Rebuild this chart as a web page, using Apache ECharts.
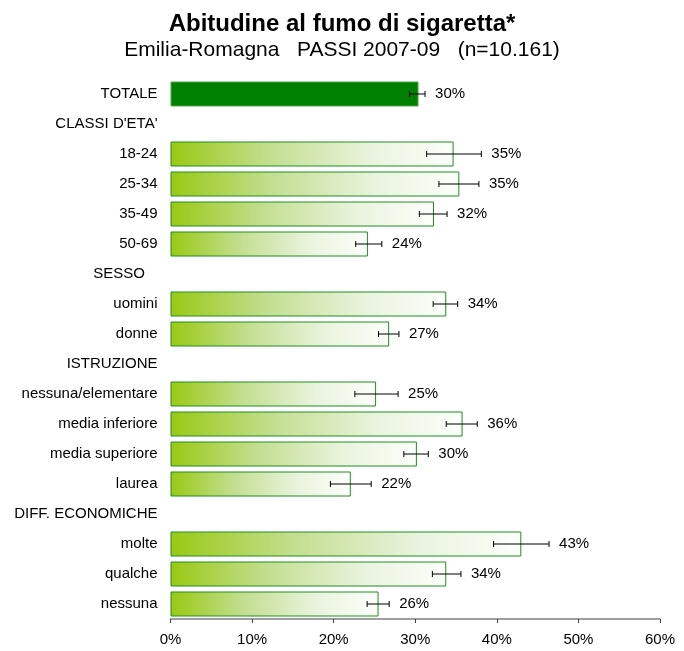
<!DOCTYPE html>
<html>
<head>
<meta charset="utf-8">
<script src="https://cdn.jsdelivr.net/npm/echarts@6/dist/echarts.min.js"></script>
<style>
html,body{margin:0;padding:0;background:#fff;}
#c{width:684px;height:651px;}
</style>
</head>
<body>
<div id="c"></div>
<script>
var categories = ['TOTALE', "CLASSI D'ETA'", '18-24', '25-34', '35-49', '50-69', 'SESSO   ', 'uomini', 'donne', 'ISTRUZIONE', 'nessuna/elementare', 'media inferiore', 'media superiore', 'laurea', 'DIFF. ECONOMICHE', 'molte', 'qualche', 'nessuna'];
var values = [30.4, null, 34.7, 35.4, 32.3, 24.2, null, 33.8, 26.8, null, 25.2, 35.8, 30.2, 22.1, null, 43.0, 33.8, 25.5];
var lowCI  = [29.3, null, 31.4, 32.9, 30.5, 22.7, null, 32.2, 25.5, null, 22.6, 33.8, 28.6, 19.6, null, 39.6, 32.1, 24.1];
var highCI = [31.2, null, 38.1, 37.8, 33.9, 25.9, null, 35.2, 28.0, null, 27.9, 37.6, 31.6, 24.6, null, 46.4, 35.6, 26.8];
var valueLabels = ['30%', '', '35%', '35%', '32%', '24%', '', '34%', '27%', '', '25%', '36%', '30%', '22%', '', '43%', '34%', '26%'];
var xTicks = [0, 10, 20, 30, 40, 50, 60];

var chart = echarts.init(document.getElementById('c'), null, {renderer: 'canvas'});
var FONT = 'Liberation Sans, Arial, sans-serif';

var grad = new echarts.graphic.LinearGradient(0, 0, 1, 0, [
  {offset: 0, color: '#99c913'},
  {offset: 0.35, color: '#c3de90'},
  {offset: 0.7, color: '#e9f3dd'},
  {offset: 1, color: '#fdfefb'}
]);

var barData = values.map(function (v, i) {
  if (v === null) return {value: null};
  if (i === 0) return {value: v, itemStyle: {color: '#008000', borderColor: '#4aa84a', borderWidth: 1}};
  return {value: v, itemStyle: {color: grad, borderColor: '#1f8f1f', borderWidth: 1}};
});

var errData = [];
for (var i = 0; i < categories.length; i++) {
  if (values[i] !== null) errData.push([i, lowCI[i], highCI[i], valueLabels[i]]);
}

chart.setOption({
  animation: false,
  title: [
    {text: 'Abitudine al fumo di sigaretta*', left: 'center', top: 7,
     textStyle: {fontFamily: FONT, fontSize: 24, fontWeight: 'bold', color: '#000'}},
    {text: 'Emilia-Romagna   PASSI 2007-09   (n=10.161)', left: 'center', top: 35,
     textStyle: {fontFamily: FONT, fontSize: 21, fontWeight: 'normal', color: '#000'}}
  ],
  grid: {left: 170.5, right: 24, top: 79, bottom: 32},
  xAxis: {
    type: 'value', min: 0, max: 60, interval: 10,
    axisLine: {show: true, lineStyle: {color: '#808080', width: 1.5}},
    axisTick: {show: true, length: 4, lineStyle: {color: '#404040'}},
    splitLine: {show: false},
    axisLabel: {formatter: function (v) { return xTicks.indexOf(v) >= 0 ? v + '%' : ''; },
      fontFamily: FONT, fontSize: 15, color: '#000', margin: 13}
  },
  yAxis: {
    type: 'category', data: categories, inverse: true,
    axisLine: {show: false}, axisTick: {show: false},
    axisLabel: {fontFamily: FONT, fontSize: 15, color: '#000', margin: 13}
  },
  series: [
    {type: 'bar', data: barData, barWidth: 25},
    {type: 'custom', data: errData, encode: {x: [1, 2], y: 0}, z: 5,
     renderItem: function (params, api) {
       var yi = api.value(0);
       var p1 = api.coord([api.value(1), yi]);
       var p2 = api.coord([api.value(2), yi]);
       var y = p1[1], h = 3;
       var st = {stroke: '#000', lineWidth: 1};
       return {type: 'group', children: [
         {type: 'line', shape: {x1: p1[0], y1: y, x2: p2[0], y2: y}, style: st},
         {type: 'line', shape: {x1: p1[0], y1: y - h, x2: p1[0], y2: y + h}, style: st},
         {type: 'line', shape: {x1: p2[0], y1: y - h, x2: p2[0], y2: y + h}, style: st},
         {type: 'text', style: {text: api.value(3), x: p2[0] + 10, y: y,
           verticalAlign: 'middle', align: 'left', fill: '#000', font: '15px ' + FONT}}
       ]};
     }}
  ]
});
</script>
</body>
</html>
